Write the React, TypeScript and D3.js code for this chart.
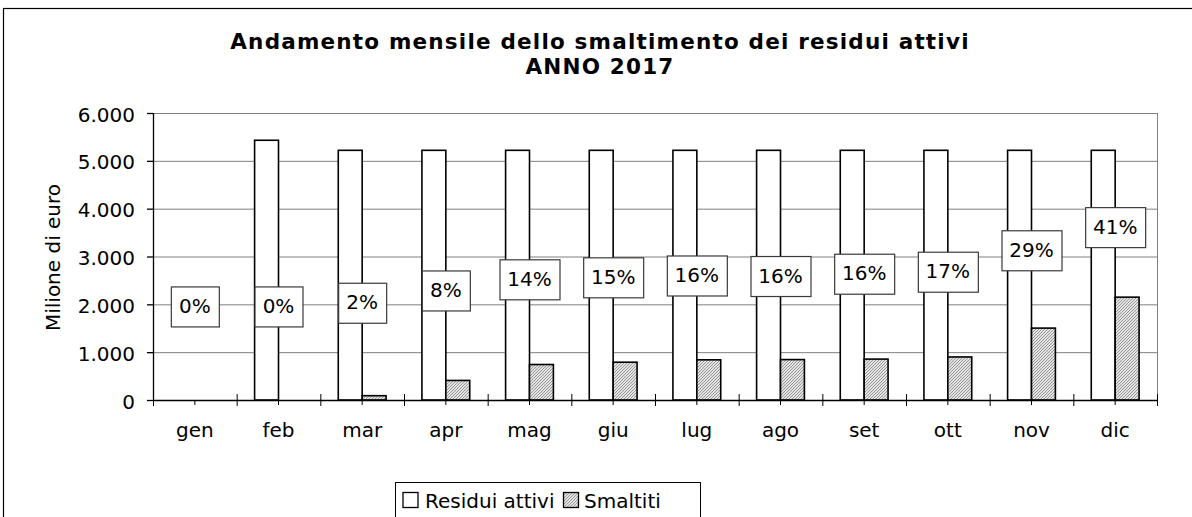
import React from 'react';
import * as d3 from 'd3';

// data
const months = ['gen', 'feb', 'mar', 'apr', 'mag', 'giu', 'lug', 'ago', 'set', 'ott', 'nov', 'dic'];
const residuiAttivi = [0, 5430, 5220, 5220, 5220, 5220, 5220, 5220, 5220, 5220, 5220, 5220];
const smaltiti = [0, 0, 90, 409, 742, 790, 840, 845, 855, 900, 1503, 2150];
const pctLabels = ['0%', '0%', '2%', '8%', '14%', '15%', '16%', '16%', '16%', '17%', '29%', '41%'];
// hidden series that carries the percentage labels (value in euro millions)
const labelAnchor = [1956, 1956, 2033, 2290, 2523, 2565, 2603, 2592, 2640, 2682, 3130, 3614];
const yTicks = [0, 1000, 2000, 3000, 4000, 5000, 6000];
const seriesNames = ['Residui attivi', 'Smaltiti'];

const fmt = d3.formatLocale({ decimal: ',', thousands: '.', grouping: [3], currency: ['€', ''] }).format(',.0f');

function drawChart(ref) {
    const svg = d3.select(ref.current);
    svg.selectAll('*').remove();

    const width = 1192, height = 517;
    const marginLeft = 153, marginRight = 35, marginTop = 113, marginBottom = 117;
    const font = 'DejaVu Sans, Verdana, sans-serif';

    const x = d3.scaleBand(months, [marginLeft, width - marginRight]).paddingInner(0).paddingOuter(0);
    const y = d3.scaleLinear([0, 6000], [height - marginBottom, marginTop]);
    const barW = x.bandwidth() / 3.5; // gap width 150%
    const gap = barW * 0.75;

    const defs = svg.append('defs');
    const pat = defs.append('pattern')
        .attr('id', 'hatch')
        .attr('patternUnits', 'userSpaceOnUse')
        .attr('width', 3)
        .attr('height', 3);
    pat.append('rect').attr('width', 3).attr('height', 3).attr('fill', '#e2e2e2');
    pat.append('path')
        .attr('d', 'M-1,1 L1,-1 M0,3 L3,0 M2,4 L4,2')
        .attr('stroke', '#7a7a7a')
        .attr('stroke-width', 0.7);

    // outer chart frame
    svg.append('rect')
        .attr('x', 3.5).attr('y', 8.5)
        .attr('width', width + 10).attr('height', height + 10)
        .attr('fill', 'white')
        .attr('stroke', '#000')
        .attr('stroke-width', 1.2);

    // title
    const title = svg.append('text')
        .attr('text-anchor', 'middle')
        .attr('font-family', font)
        .attr('font-weight', 'bold')
        .attr('font-size', 21.5)
        .attr('letter-spacing', 1.2)
        .attr('fill', '#000');
    title.append('tspan').attr('x', 600).attr('y', 48.5).text('Andamento mensile dello smaltimento dei residui attivi');
    title.append('tspan').attr('x', 600).attr('y', 74).text('ANNO 2017');

    // grid
    svg.append('g')
        .selectAll('line')
        .data(yTicks.filter(d => d > 0))
        .join('line')
        .attr('x1', marginLeft).attr('x2', width - marginRight)
        .attr('y1', d => y(d) + 0.5).attr('y2', d => y(d) + 0.5)
        .attr('stroke', '#808080')
        .attr('stroke-width', 1);
    svg.append('line')
        .attr('x1', width - marginRight + 0.5).attr('x2', width - marginRight + 0.5)
        .attr('y1', marginTop).attr('y2', y(0))
        .attr('stroke', '#808080');

    // bars
    const bars = svg.append('g')
        .attr('stroke', '#000')
        .attr('stroke-width', 1.6);
    bars.selectAll('rect.res')
        .data(months.map((m, i) => ({ m, v: residuiAttivi[i] })).filter(d => d.v > 0))
        .join('rect')
        .attr('class', 'res')
        .attr('x', d => x(d.m) + gap)
        .attr('y', d => y(d.v))
        .attr('width', barW)
        .attr('height', d => y(0) - y(d.v))
        .attr('fill', 'white');
    bars.selectAll('rect.sm')
        .data(months.map((m, i) => ({ m, v: smaltiti[i] })).filter(d => d.v > 0))
        .join('rect')
        .attr('class', 'sm')
        .attr('x', d => x(d.m) + gap + barW)
        .attr('y', d => y(d.v))
        .attr('width', barW)
        .attr('height', d => y(0) - y(d.v))
        .attr('fill', 'url(#hatch)');

    // y axis
    const yAxis = svg.append('g').attr('font-family', font).attr('font-size', 20);
    yAxis.append('line')
        .attr('x1', marginLeft + 0.5).attr('x2', marginLeft + 0.5)
        .attr('y1', marginTop).attr('y2', y(0) + 0.5)
        .attr('stroke', '#000').attr('stroke-width', 1.3);
    yAxis.selectAll('line.tick')
        .data(yTicks)
        .join('line')
        .attr('class', 'tick')
        .attr('x1', marginLeft - 6).attr('x2', marginLeft)
        .attr('y1', d => y(d) + 0.5).attr('y2', d => y(d) + 0.5)
        .attr('stroke', '#000').attr('stroke-width', 1.3);
    yAxis.selectAll('text')
        .data(yTicks)
        .join('text')
        .attr('x', 135)
        .attr('y', d => y(d) + 8.5)
        .attr('text-anchor', 'end')
        .text(d => fmt(d));

    svg.append('text')
        .attr('transform', `translate(60,${(marginTop + y(0)) / 2 + 1}) rotate(-90)`)
        .attr('text-anchor', 'middle')
        .attr('font-family', font)
        .attr('font-size', 20)
        .text('Milione di euro');

    // x axis
    const xAxis = svg.append('g').attr('font-family', font).attr('font-size', 20);
    xAxis.append('line')
        .attr('x1', marginLeft).attr('x2', width - marginRight + 1)
        .attr('y1', y(0) + 0.5).attr('y2', y(0) + 0.5)
        .attr('stroke', '#000').attr('stroke-width', 1.3);
    const bounds = months.map(m => x(m)).concat([x(months[months.length - 1]) + x.bandwidth()]);
    xAxis.selectAll('line.b')
        .data(bounds)
        .join('line')
        .attr('class', 'b')
        .attr('x1', d => d + 0.5).attr('x2', d => d + 0.5)
        .attr('y1', y(0) - 6).attr('y2', y(0) + 6)
        .attr('stroke', '#000').attr('stroke-width', 1);
    xAxis.selectAll('line.c')
        .data(months)
        .join('line')
        .attr('class', 'c')
        .attr('x1', d => x(d) + x.bandwidth() / 2).attr('x2', d => x(d) + x.bandwidth() / 2)
        .attr('y1', y(0)).attr('y2', y(0) + 5)
        .attr('stroke', '#000').attr('stroke-width', 1);
    xAxis.selectAll('text')
        .data(months)
        .join('text')
        .attr('x', d => x(d) + x.bandwidth() / 2)
        .attr('y', 437)
        .attr('text-anchor', 'middle')
        .text(d => d);

    // percentage labels
    const labels = svg.append('g').attr('font-family', font).attr('font-size', 20);
    const lg = labels.selectAll('g')
        .data(months.map((m, i) => ({ m, t: pctLabels[i], v: labelAnchor[i] })))
        .join('g')
        .attr('transform', d => `translate(${x(d.m) + x.bandwidth() / 2},${y(d.v)})`);
    lg.append('rect')
        .attr('fill', 'white')
        .attr('stroke', '#3a3a3a')
        .attr('stroke-width', 1.2);
    lg.append('text')
        .attr('text-anchor', 'middle')
        .attr('y', 6.5)
        .text(d => d.t);
    lg.each(function () {
        const g = d3.select(this);
        const w = g.select('text').node().getComputedTextLength();
        g.select('rect')
            .attr('x', -Math.round(w / 2 + 8) + 0.5)
            .attr('y', -19.5)
            .attr('width', Math.round(w + 16))
            .attr('height', 40);
    });

    // legend
    const legend = svg.append('g').attr('font-family', font).attr('font-size', 20);
    legend.append('rect')
        .attr('x', 395.5).attr('y', 482.5)
        .attr('width', 305).attr('height', 60)
        .attr('fill', 'white')
        .attr('stroke', '#000');
    const items = [
        { name: seriesNames[0], fill: 'white', sx: 403, tx: 425 },
        { name: seriesNames[1], fill: 'url(#hatch)', sx: 563.5, tx: 584 },
    ];
    legend.selectAll('rect.sw')
        .data(items)
        .join('rect')
        .attr('class', 'sw')
        .attr('x', d => d.sx).attr('y', 492.5)
        .attr('width', 15).attr('height', 15)
        .attr('fill', d => d.fill)
        .attr('stroke', '#000').attr('stroke-width', 1.3);
    legend.selectAll('text')
        .data(items)
        .join('text')
        .attr('x', d => d.tx).attr('y', 508)
        .text(d => d.name);
}

export default function App() {
    const ref = React.useRef(null);
    React.useEffect(() => {
        drawChart(ref);
    }, []);
    return (
        <svg
            ref={ref}
            width={1192}
            height={517}
            viewBox="0 0 1192 517"
            style={{ position: 'absolute', left: 0, top: 0, background: 'white' }}
        />
    );
}
